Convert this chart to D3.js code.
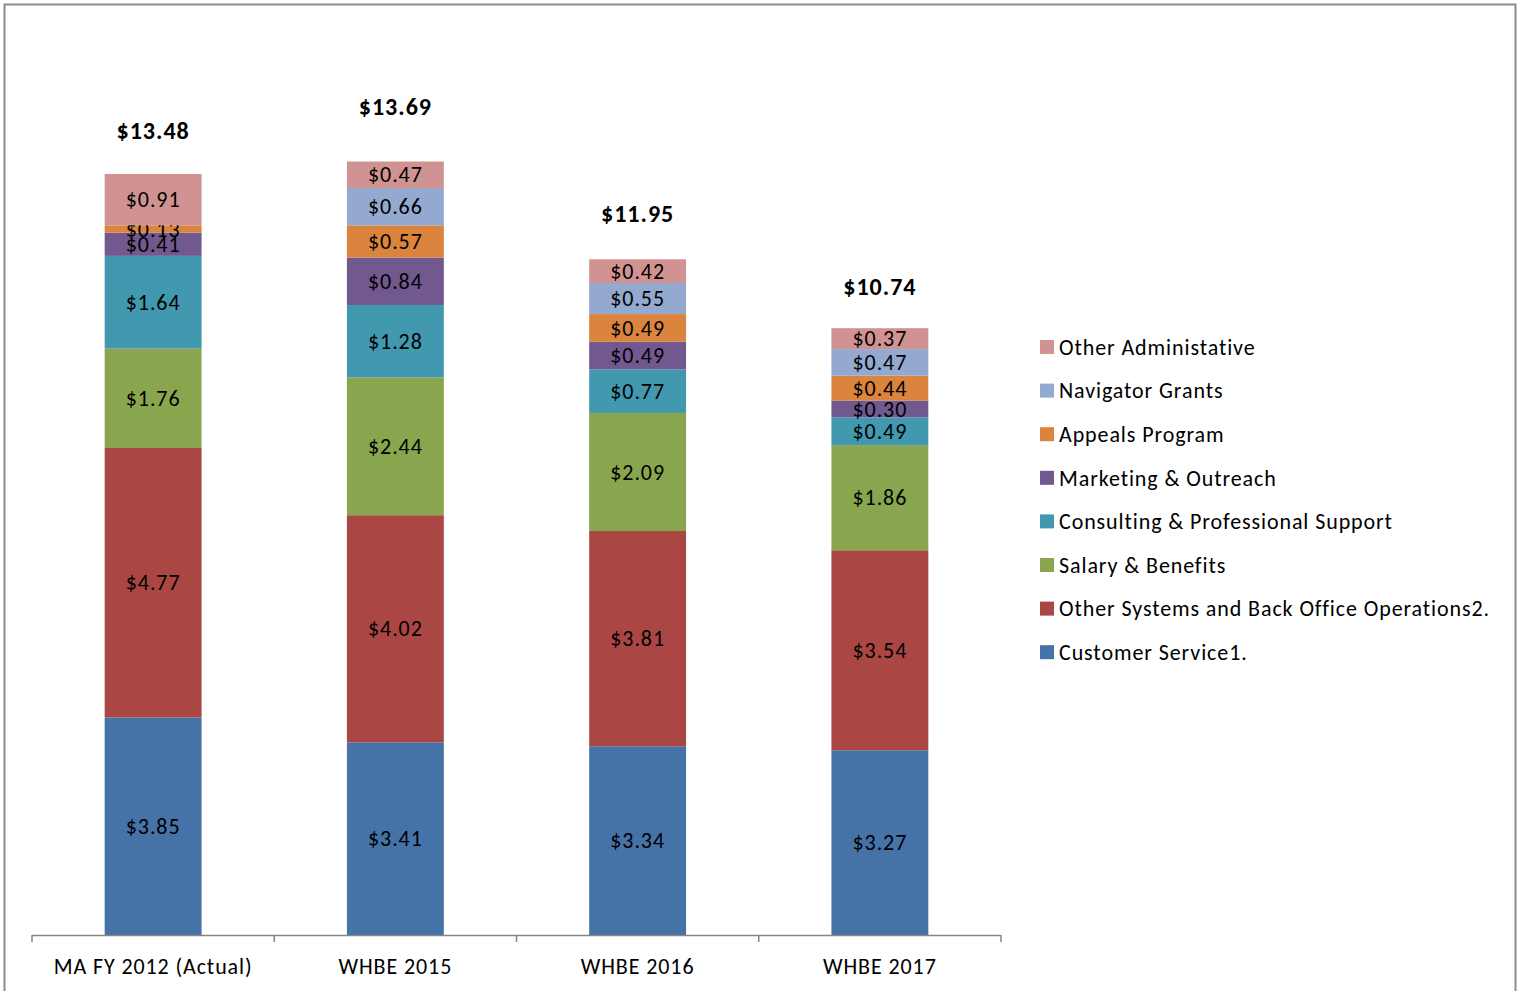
<!DOCTYPE html>
<html lang="en">
<head>
<meta charset="UTF-8">
<title>Cost per member</title>
<script src="https://cdnjs.cloudflare.com/ajax/libs/d3/7.8.5/d3.min.js"></script>
<style>
  body { margin: 0; background: #fff; }
  svg { display: block; font-family: Calibri, Carlito, Lato, "Open Sans", sans-serif; }
</style>
</head>
<body>
<svg id="chart" width="1519" height="991"></svg>
<script>
// categories along the x axis
const categories = ["MA FY 2012 (Actual)", "WHBE 2015", "WHBE 2016", "WHBE 2017"];

// series, bottom to top of the stack
const seriesNames = [
    "Customer Service1.",
    "Other Systems and Back Office Operations2.",
    "Salary & Benefits",
    "Consulting & Professional Support",
    "Marketing & Outreach",
    "Appeals Program",
    "Navigator Grants",
    "Other Administative"
];
const customerService   = [3.85, 3.41, 3.34, 3.27];
const otherSystems      = [4.77, 4.02, 3.81, 3.54];
const salaryBenefits    = [1.76, 2.44, 2.09, 1.86];
const consulting        = [1.64, 1.28, 0.77, 0.49];
const marketing         = [0.41, 0.84, 0.49, 0.30];
const appeals           = [0.13, 0.57, 0.49, 0.44];
const navigator         = [0.00, 0.66, 0.55, 0.47];
const otherAdmin        = [0.91, 0.47, 0.42, 0.37];
const totals            = [13.48, 13.69, 11.95, 10.74];

const seriesColors = ["#4572a7", "#aa4643", "#89a54e", "#4198af", "#71588f", "#db843d", "#93a9cf", "#d19392"];

const seriesValues = [customerService, otherSystems, salaryBenefits, consulting, marketing, appeals, navigator, otherAdmin];

// table for d3.stack
const table = categories.map((c, i) => {
    const row = { category: c };
    seriesNames.forEach((s, j) => row[s] = seriesValues[j][i]);
    return row;
});

const svg = d3.select("#chart");

// outer frame
svg.append("rect")
    .attr("x", 4.5).attr("y", 4.5)
    .attr("width", 1511).attr("height", 1000)
    .attr("fill", "none")
    .attr("stroke", "#8c8c8c")
    .attr("stroke-width", 2);

const plotLeft = 32, plotRight = 1001, plotBottom = 935, plotTop = 31;

const x = d3.scaleBand()
    .domain(categories)
    .range([plotLeft, plotRight])
    .padding(0);

const y = d3.scaleLinear()
    .domain([0, 16])
    .range([plotBottom, plotTop]);

const barWidth = x.bandwidth() * 0.4;

const stacked = d3.stack().keys(seriesNames)(table);

const fmt = v => "$" + d3.format(".2f")(v);

const layers = svg.append("g")
    .selectAll("g")
    .data(stacked)
    .enter()
    .append("g")
    .attr("fill", (d, i) => seriesColors[i]);

layers.selectAll("rect")
    .data(d => d)
    .enter()
    .append("rect")
    .attr("x", d => x(d.data.category) + (x.bandwidth() - barWidth) / 2)
    .attr("y", d => y(d[1]))
    .attr("width", barWidth)
    .attr("height", d => y(d[0]) - y(d[1]));

// segment labels (skip empty segments)
layers.selectAll("text")
    .data(d => d.filter(p => p[1] - p[0] > 0))
    .enter()
    .append("text")
    .attr("x", d => x(d.data.category) + x.bandwidth() / 2)
    .attr("y", d => (y(d[0]) + y(d[1])) / 2)
    .attr("dy", "0.35em")
    .attr("text-anchor", "middle")
    .attr("font-size", 22)
    .attr("letter-spacing", 0.9)
    .attr("fill", "#000")
    .text(d => fmt(d[1] - d[0]));

// totals above each bar
const totalLift = [43, 55, 46, 42];
svg.append("g")
    .selectAll("text")
    .data(categories)
    .enter()
    .append("text")
    .attr("x", d => x(d) + x.bandwidth() / 2)
    .attr("y", (d, i) => y(totals[i]) - totalLift[i])
    .attr("dy", "0.35em")
    .attr("text-anchor", "middle")
    .attr("font-size", 24)
    .attr("letter-spacing", 1)
    .attr("font-weight", "bold")
    .text((d, i) => fmt(totals[i]));

// x axis
const axis = svg.append("g")
    .attr("transform", `translate(0,${plotBottom})`);
axis.append("line")
    .attr("x1", plotLeft).attr("x2", plotRight)
    .attr("y1", 0.5).attr("y2", 0.5)
    .attr("stroke", "#868686").attr("stroke-width", 1.5);
axis.selectAll("line.tick")
    .data(d3.range(categories.length + 1))
    .enter()
    .append("line")
    .attr("class", "tick")
    .attr("x1", i => plotLeft + i * x.step())
    .attr("x2", i => plotLeft + i * x.step())
    .attr("y1", 0).attr("y2", 7)
    .attr("stroke", "#868686").attr("stroke-width", 1.5);
axis.selectAll("text")
    .data(categories)
    .enter()
    .append("text")
    .attr("x", d => x(d) + x.bandwidth() / 2)
    .attr("y", 31)
    .attr("dy", "0.35em")
    .attr("text-anchor", "middle")
    .attr("font-size", 22)
    .attr("letter-spacing", 0.9)
    .text(d => d);

// legend, top entry is last series
const legendItems = seriesNames.map((s, i) => ({ name: s, color: seriesColors[i] })).reverse();
const legend = svg.append("g")
    .selectAll("g")
    .data(legendItems)
    .enter()
    .append("g")
    .attr("transform", (d, i) => `translate(1040,${347 + i * 43.6})`);
legend.append("rect")
    .attr("x", 0).attr("y", -7)
    .attr("width", 14).attr("height", 14)
    .attr("fill", d => d.color);
legend.append("text")
    .attr("x", 19)
    .attr("dy", "0.35em")
    .attr("font-size", 22)
    .attr("letter-spacing", 0.9)
    .text(d => d.name);
</script>
</body>
</html>
